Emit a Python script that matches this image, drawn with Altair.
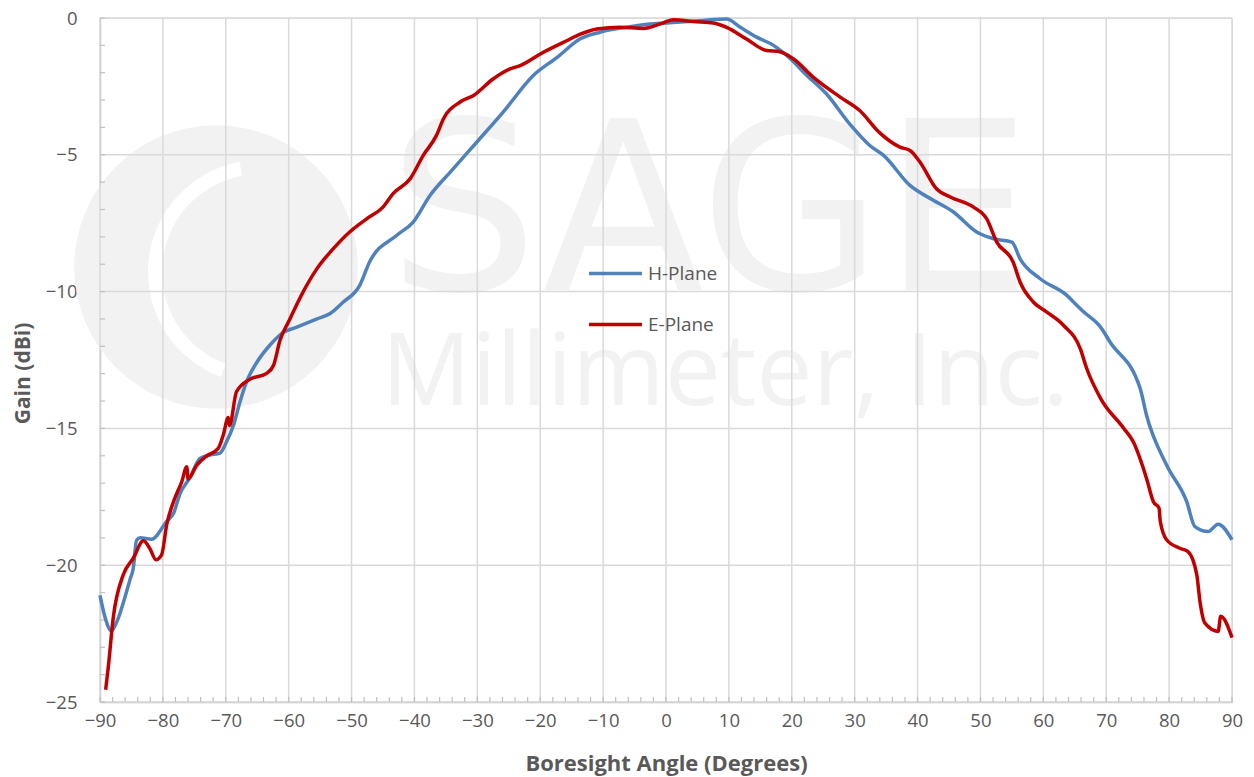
import altair as alt
import pandas as pd

# ---- data ----
h_angle = [-90, -89.2, -88.2, -87.2, -86.2, -85.2, -84.7, -84.2, -83.6, -81.8, -79.4, -78.3,
           -77.3, -75.7, -74.1, -72.5, -70.9, -69.9, -68.8, -67.7, -66.7, -65.1, -63.0, -60.9,
           -58.7, -55.5, -53.4, -51.4, -48.7, -47.1, -42.8, -40.2, -37.5, -34.3, -30.1, -25.9,
           -21.1, -17.2, -13.7, -10.5, -6.3, -2.5, 1.7, 5.4, 9.65, 11.8, 14.4, 17.1, 19.2, 22.4,
           25.5, 29.3, 32.4, 34.6, 38.8, 42.5, 45.7, 49.4, 52.1, 55.0, 56.3, 59.5, 63.7, 64.8,
           66.4, 69.1, 70.6, 75.4, 76.4, 79.6, 82.8, 84.1, 86.2, 87.8, 90]
h_gain = [-21.1, -21.9, -22.4, -22.0, -21.3, -20.5, -20.1, -19.1, -19.0, -19.05, -18.4, -18.1,
          -17.4, -16.8, -16.1, -15.97, -15.9, -15.5, -14.9, -14.0, -13.3, -12.6, -11.96, -11.5,
          -11.3, -11.0, -10.8, -10.4, -9.77, -8.9, -7.94, -7.46, -6.48, -5.63, -4.54, -3.44,
          -2.10, -1.42, -0.77, -0.52, -0.34, -0.22, -0.16, -0.1, -0.04, -0.34, -0.70, -1.0, -1.37, -2.10,
          -2.77, -3.9, -4.66, -5.02, -6.12, -6.66, -7.09, -7.82, -8.07, -8.19, -8.80, -9.53, -10.13, -10.38,
          -10.74, -11.3, -11.84, -13.54, -14.51, -16.34, -17.68, -18.59, -18.77, -18.50, -19.07]

e_angle = [-89.1, -88.7, -87.9, -86.3, -84.7, -83.1, -82.1, -81.1, -80.2, -79.4, -78.1, -77.0,
           -76.2, -76.0, -74.6, -73.0, -71.2, -70.4, -69.6, -69.4, -68.3, -66.1, -63.5, -62.4,
           -61.4, -59.8, -57.7, -55.5, -52.9, -50.3, -47.6, -45.0, -43.4, -40.7, -38.6, -36.5,
           -35.4, -32.8, -30.6, -27.5, -24.8, -23.2, -19.5, -15.8, -13.7, -11.0, -7.3, -3.6,
           -0.95, 1.17, 4.35, 7.5, 9.65, 12.8, 16.0, 18.1, 20.3, 23.4, 27.7, 30.8, 34.0, 37.2,
           38.8, 40.4, 43.0, 45.2, 48.9, 51.0, 52.6, 55.2, 56.3, 58.4, 60.5, 63.2, 65.9, 66.9,
           69.1, 72.8, 74.3, 76.4, 77.5, 78.4, 78.6, 79.6, 81.7, 83.0, 84.4, 84.9, 85.7, 87.8,
           88.2, 90.0]
e_gain = [-24.55, -23.76, -21.93, -20.35, -19.74, -19.11, -19.38, -19.80, -19.62, -18.53, -17.55, -16.95,
          -16.4, -16.85, -16.34, -16.0, -15.73, -15.24, -14.6, -14.9, -13.66, -13.2, -12.99, -12.69,
          -11.8, -11.0, -10.01, -9.16, -8.43, -7.82, -7.34, -6.91, -6.42, -5.88, -5.02, -4.29,
          -3.69, -3.08, -2.83, -2.23, -1.86, -1.74, -1.25, -0.83, -0.6, -0.40, -0.34, -0.38,
          -0.22, -0.06, -0.13, -0.18, -0.34, -0.77, -1.19, -1.23, -1.50, -2.16, -2.89, -3.38, -4.2, -4.72,
          -4.84, -5.27, -6.24, -6.54, -6.91, -7.34, -8.19, -8.92, -9.65, -10.38, -10.74, -11.23, -12.1, -12.81,
          -13.9, -15.0, -15.49, -16.82, -17.68, -17.92, -18.4, -19.07, -19.38, -19.5, -20.35, -21.32, -22.12, -22.42,
          -21.87, -22.65]

series_names = ["H-Plane", "E-Plane"]
series_colors = ["#4F81BD", "#C00000"]

x_major = list(range(-90, 91, 10))
x_minor = list(range(-90, 91, 2))
y_major = list(range(-25, 1, 5))
y_minor = list(range(-25, 1, 1))

W, H = 1132, 684
FONT = "Open Sans"
GRID = "#d9d9d9"
TXT = "#595959"
WM = "#f2f2f2"

df = pd.concat([
    pd.DataFrame({"angle": h_angle, "gain": h_gain, "series": series_names[0], "o": 0}),
    pd.DataFrame({"angle": e_angle, "gain": e_gain, "series": series_names[1], "o": 1}),
])

xscale = alt.Scale(domain=[-90, 90], nice=False)
yscale = alt.Scale(domain=[-25, 0], nice=False)

xaxis = alt.Axis(values=x_major, title="Boresight Angle (Degrees)", grid=False, ticks=False,
                 tickSize=0, labelPadding=9, domainColor="#bfbfbf", domainWidth=1.5,
                 labelFont=FONT, labelFontSize=18.5, labelColor=TXT, labelFlush=False,
                 titleFont=FONT, titleFontSize=22, titleFontWeight="bold", titleColor=TXT,
                 titleY=68, titleBaseline="alphabetic")
yaxis = alt.Axis(values=y_major, title="Gain (dBi)", grid=False, ticks=False, tickSize=0,
                 labelPadding=23, domainColor="#bfbfbf", domainWidth=1.5,
                 labelFont=FONT, labelFontSize=18.5, labelColor=TXT, labelFlush=False,
                 titleFont=FONT, titleFontSize=21, titleFontWeight="bold", titleColor=TXT,
                 titleX=-77, titleY=355, titleAngle=270, titleAlign="center",
                 titleBaseline="middle")

# watermark
wm_circle = alt.Chart(pd.DataFrame({"a": [0]})).mark_circle(color=WM, opacity=1, clip=False).encode(
    x=alt.value(116), y=alt.value(249), size=alt.value(3.1416 * 160 * 160))
wm_arc = alt.Chart(pd.DataFrame({"a": [0]})).mark_arc(color="white", clip=False).encode(
    x=alt.value(160), y=alt.value(254), radius=alt.value(112), radius2=alt.value(98),
    theta=alt.value(3.5), theta2=alt.value(6.1))
wm_sage = alt.Chart(pd.DataFrame({"t": ["SAGE"]})).mark_text(
    font="DejaVu Sans", fontSize=236, color=WM, align="center", baseline="alphabetic").encode(
    text="t:N", x=alt.value(610), y=alt.value(272))
wm_mill = alt.Chart(pd.DataFrame({"t": ["Millimeter, Inc."]})).mark_text(
    font=FONT, fontSize=100, color=WM, align="center", baseline="alphabetic").encode(
    text="t:N", x=alt.value(625), y=alt.value(387))

# gridlines and minor ticks
gx = alt.Chart(pd.DataFrame({"angle": x_major})).mark_rule(color=GRID, strokeWidth=1.5).encode(
    x=alt.X("angle:Q", scale=xscale, axis=xaxis), y=alt.value(0), y2=alt.value(H))
gy = alt.Chart(pd.DataFrame({"gain": y_major})).mark_rule(color=GRID, strokeWidth=1.5).encode(
    y=alt.Y("gain:Q", scale=yscale, axis=yaxis), x=alt.value(0), x2=alt.value(W))
tx = alt.Chart(pd.DataFrame({"angle": x_minor})).mark_rule(color="#bfbfbf", strokeWidth=1.2).encode(
    x=alt.X("angle:Q", scale=xscale, axis=xaxis), y=alt.value(H - 5), y2=alt.value(H))
ty = alt.Chart(pd.DataFrame({"gain": y_minor})).mark_rule(color="#bfbfbf", strokeWidth=1.2).encode(
    y=alt.Y("gain:Q", scale=yscale, axis=yaxis), x=alt.value(0), x2=alt.value(5))

lines = alt.Chart(df).mark_line(strokeWidth=3.5, interpolate="monotone", clip=False).encode(
    x=alt.X("angle:Q", scale=xscale, axis=xaxis),
    y=alt.Y("gain:Q", scale=yscale, axis=yaxis),
    color=alt.Color("series:N", scale=alt.Scale(domain=series_names, range=series_colors),
                    legend=alt.Legend(title=None, orient="none", legendX=487, legendY=227,
                                      symbolType="stroke", symbolSize=2800, symbolStrokeWidth=3.5,
                                      labelFont=FONT, labelFontSize=19, labelColor=TXT,
                                      rowPadding=12, labelOffset=4)),
    order="o:Q",
    detail="series:N",
)

chart = alt.layer(wm_circle, wm_arc, wm_sage, wm_mill, gx, gy, tx, ty, lines).properties(
    width=W, height=H,
    autosize=alt.AutoSizeParams(type="none"),
    padding={"left": 92, "top": 10, "right": 14, "bottom": 75},
).configure_view(stroke=None).configure(background="white")

chart.save("out.html", embed_options={"renderer": "svg", "actions": False})
